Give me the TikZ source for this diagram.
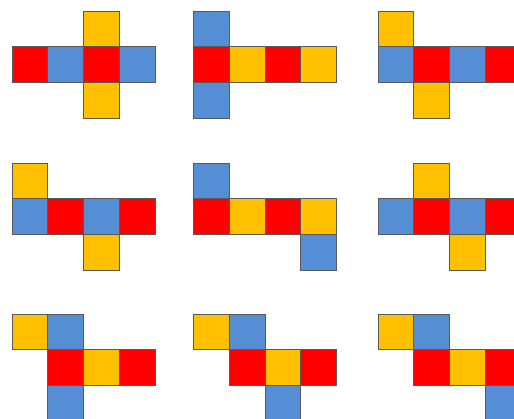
\documentclass[tikz,border=0pt]{standalone}
\definecolor{netred}{HTML}{FF0000}
\definecolor{netblue}{HTML}{558ED5}
\definecolor{netyellow}{HTML}{FFC000}
\tikzset{
  sq/.style={draw=black!65, line width=0.6pt},
  R/.style={sq, fill=netred},
  B/.style={sq, fill=netblue},
  Y/.style={sq, fill=netyellow}
}
\begin{document}
\begin{tikzpicture}[x=1pt,y=-1pt]
\useasboundingbox (0,0) rectangle (514,418);
\clip (0,0) rectangle (514,418);
\def\s{35.7}
\foreach \ox/\oy/\list in {
  12/11/{0/1/R,1/1/B,2/1/R,3/1/B,2/0/Y,2/2/Y},
  193.5/11/{0/0/B,0/1/R,1/1/Y,2/1/R,3/1/Y,0/2/B},
  378/11/{0/0/Y,0/1/B,1/1/R,2/1/B,3/1/R,1/2/Y},
  12/163/{0/0/Y,0/1/B,1/1/R,2/1/B,3/1/R,2/2/Y},
  193.5/163/{0/0/B,0/1/R,1/1/Y,2/1/R,3/1/Y,3/2/B},
  378/163/{1/0/Y,0/1/B,1/1/R,2/1/B,3/1/R,2/2/Y},
  12/314/{0/0/Y,1/0/B,1/1/R,2/1/Y,3/1/R,1/2/B},
  193.5/314/{0/0/Y,1/0/B,1/1/R,2/1/Y,3/1/R,2/2/B},
  378/314/{0/0/Y,1/0/B,1/1/R,2/1/Y,3/1/R,3/2/B}}{
  \begin{scope}[shift={(\ox,\oy)}]
    \foreach \c/\r/\k in \list {
      \draw[\k] ({\c*\s},{\r*\s}) rectangle ++(\s,\s);
    }
  \end{scope}
}
\end{tikzpicture}
\end{document}
